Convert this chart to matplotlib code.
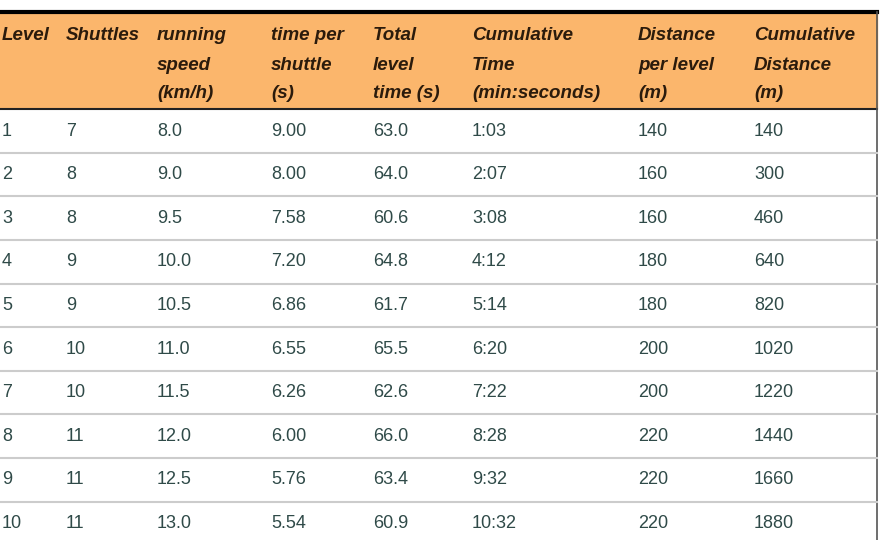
import matplotlib
matplotlib.use("Agg")
import matplotlib.pyplot as plt

headers = ["Level", "Shuttles", "running\nspeed\n(km/h)", "time per\nshuttle\n(s)",
           "Total\nlevel\ntime (s)", "Cumulative\nTime\n(min:seconds)", "Distance\nper level\n(m)",
           "Cumulative\nDistance\n(m)"]
levels = ["1", "2", "3", "4", "5", "6", "7", "8", "9", "10"]
shuttles = ["7", "8", "8", "9", "9", "10", "10", "11", "11", "11"]
speed = ["8.0", "9.0", "9.5", "10.0", "10.5", "11.0", "11.5", "12.0", "12.5", "13.0"]
time_per_shuttle = ["9.00", "8.00", "7.58", "7.20", "6.86", "6.55", "6.26", "6.00", "5.76", "5.54"]
level_time = ["63.0", "64.0", "60.6", "64.8", "61.7", "65.5", "62.6", "66.0", "63.4", "60.9"]
cum_time = ["1:03", "2:07", "3:08", "4:12", "5:14", "6:20", "7:22", "8:28", "9:32", "10:32"]
dist_level = ["140", "160", "160", "180", "180", "200", "200", "220", "220", "220"]
cum_dist = ["140", "300", "460", "640", "820", "1020", "1220", "1440", "1660", "1880"]

columns = [levels, shuttles, speed, time_per_shuttle, level_time, cum_time, dist_level, cum_dist]
col_x = [2, 66, 157, 271, 373, 472, 638, 754]

W, H = 880, 540
fig = plt.figure(figsize=(W / 100, H / 100), dpi=100)
ax = fig.add_axes([0, 0, 1, 1])
ax.set_xlim(0, W)
ax.set_ylim(H, 0)
ax.axis("off")
plt.rcParams["font.family"] = ["Liberation Sans", "DejaVu Sans"]

# header background
ax.add_patch(plt.Rectangle((0, 13), 877, 95, color="#FBB66C", zorder=0))
ax.plot([0, 877], [12, 12], color="black", lw=3)
ax.plot([0, 877], [108.5, 108.5], color="#222222", lw=1.5)
ax.plot([877, 877], [12, 540], color="#555555", lw=1.2)

for x, h in zip(col_x, headers):
    for i, line in enumerate(h.split("\n")):
        ax.text(x, 36 + i * 29, line, fontsize=13.5, fontweight="bold", fontstyle="italic",
                color="#2B1B0C", va="center", ha="left")

pitch = 43.6
for r in range(10):
    yc = 131 + r * pitch
    for x, col in zip(col_x, columns):
        ax.text(x, yc, col[r], fontsize=13, color="#2F4A48", va="center", ha="left")
    if r < 9:
        ys = yc + pitch / 2
        ax.plot([0, 877], [ys, ys], color="#CCCCCC", lw=1.5)

fig.savefig("out.png", dpi=100)
